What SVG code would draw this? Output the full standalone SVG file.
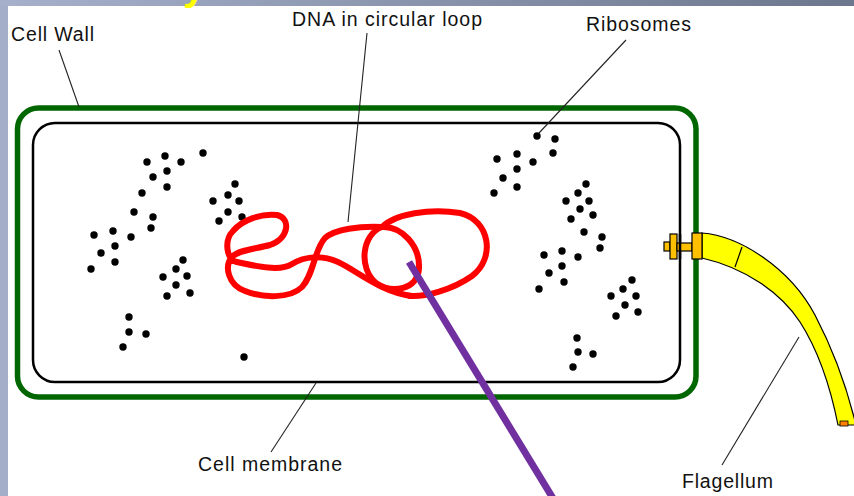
<svg xmlns="http://www.w3.org/2000/svg" width="854" height="496" viewBox="0 0 854 496">
  <defs>
    <linearGradient id="topBand" x1="0" y1="0" x2="1" y2="0">
      <stop offset="0" stop-color="#a6b0cb"/>
      <stop offset="1" stop-color="#6c778d"/>
    </linearGradient>
    <style>
      .label { font-family: "Liberation Sans", Arial, sans-serif; font-size: 19.5px; fill: #111; }
      .leader { stroke: #222; stroke-width: 1.1; fill: none; }
      .dna { fill: none; stroke: #ff0000; stroke-width: 6; stroke-linecap: round; stroke-linejoin: round; }
      .hook { fill: #ffc000; stroke: #000; stroke-width: 1.2; }
      #ribosomes circle { fill: #000; }
    </style>
  </defs>

  <!-- page background and slide frame -->
  <rect x="0" y="0" width="854" height="496" fill="#ffffff"/>
  <rect x="0" y="0" width="8" height="496" fill="#a4aec9"/>
  <rect x="0" y="0" width="854" height="6" fill="url(#topBand)"/>
  <text x="183" y="0" font-family="Liberation Sans, Arial, sans-serif" font-size="40" font-weight="bold" fill="#ffff00">y</text>

  <!-- cell wall -->
  <g id="cell-wall">
    <rect x="17.5" y="108" width="678.5" height="289" rx="21" ry="21" fill="none" stroke="#006600" stroke-width="5.5"/>
  </g>

  <!-- cell membrane -->
  <g id="cell-membrane">
    <rect x="33" y="123" width="647" height="259" rx="22" ry="22" fill="none" stroke="#000" stroke-width="2.5"/>
  </g>

  <!-- ribosomes scattered in the cytoplasm -->
  <g id="ribosomes">
    <circle cx="147" cy="162" r="3.7"/><circle cx="165" cy="156" r="3.7"/><circle cx="181" cy="162" r="3.7"/>
    <circle cx="203" cy="153" r="3.7"/><circle cx="167" cy="171" r="3.7"/><circle cx="153" cy="177" r="3.7"/>
    <circle cx="167" cy="187" r="3.7"/><circle cx="142" cy="193" r="3.7"/><circle cx="134" cy="212" r="3.7"/>
    <circle cx="153" cy="217" r="3.7"/><circle cx="151" cy="228" r="3.7"/>
    <circle cx="235" cy="184" r="3.7"/><circle cx="228" cy="195" r="3.7"/><circle cx="239" cy="201" r="3.7"/>
    <circle cx="213" cy="201" r="3.7"/><circle cx="228" cy="212" r="3.7"/><circle cx="219" cy="221" r="3.7"/>
    <circle cx="242" cy="217" r="3.7"/>
    <circle cx="113" cy="231" r="3.7"/><circle cx="94" cy="235" r="3.7"/><circle cx="131" cy="237" r="3.7"/>
    <circle cx="115" cy="246" r="3.7"/><circle cx="101" cy="253" r="3.7"/><circle cx="115" cy="262" r="3.7"/>
    <circle cx="91" cy="269" r="3.7"/>
    <circle cx="183" cy="260" r="3.7"/><circle cx="176" cy="269" r="3.7"/><circle cx="187" cy="276" r="3.7"/>
    <circle cx="163" cy="277" r="3.7"/><circle cx="176" cy="285" r="3.7"/><circle cx="190" cy="293" r="3.7"/>
    <circle cx="167" cy="296" r="3.7"/>
    <circle cx="129" cy="317" r="3.7"/><circle cx="129" cy="332" r="3.7"/><circle cx="146" cy="334" r="3.7"/>
    <circle cx="123" cy="347" r="3.7"/>
    <circle cx="244" cy="357" r="3.7"/>
    <circle cx="537" cy="136" r="3.7"/><circle cx="555" cy="139" r="3.7"/><circle cx="553" cy="153" r="3.7"/>
    <circle cx="497" cy="159" r="3.7"/><circle cx="517" cy="154" r="3.7"/><circle cx="533" cy="162" r="3.7"/>
    <circle cx="517" cy="169" r="3.7"/><circle cx="503" cy="178" r="3.7"/><circle cx="517" cy="187" r="3.7"/>
    <circle cx="494" cy="193" r="3.7"/>
    <circle cx="586" cy="184" r="3.7"/><circle cx="578" cy="193" r="3.7"/><circle cx="566" cy="201" r="3.7"/>
    <circle cx="589" cy="201" r="3.7"/><circle cx="580" cy="209" r="3.7"/><circle cx="571" cy="219" r="3.7"/>
    <circle cx="593" cy="215" r="3.7"/><circle cx="584" cy="232" r="3.7"/><circle cx="602" cy="237" r="3.7"/>
    <circle cx="600" cy="248" r="3.7"/>
    <circle cx="544" cy="255" r="3.7"/><circle cx="562" cy="251" r="3.7"/><circle cx="578" cy="257" r="3.7"/>
    <circle cx="562" cy="266" r="3.7"/><circle cx="549" cy="273" r="3.7"/><circle cx="564" cy="282" r="3.7"/>
    <circle cx="539" cy="289" r="3.7"/>
    <circle cx="632" cy="280" r="3.7"/><circle cx="623" cy="289" r="3.7"/><circle cx="611" cy="296" r="3.7"/>
    <circle cx="636" cy="296" r="3.7"/><circle cx="625" cy="305" r="3.7"/><circle cx="616" cy="316" r="3.7"/>
    <circle cx="638" cy="312" r="3.7"/>
    <circle cx="577" cy="338" r="3.7"/><circle cx="578" cy="352" r="3.7"/><circle cx="593" cy="354" r="3.7"/>
    <circle cx="573" cy="367" r="3.7"/>
  </g>

  <!-- circular DNA drawn as a freehand loop -->
  <g id="dna">
    <path class="dna" d="M237,262 C226,260 224,240 233,231 C242,220 262,213 277,215 C292,219 288,239 270,245 C255,249 238,250 232,257 C224,266 228,285 245,291 C262,298 290,299 302,287 C314,274 314,250 325,238 C335,229 360,226 382,227 C395,214 430,208 460,213 C490,220 496,258 472,276 C452,290 425,297 410,296"/>
    <path class="dna" d="M237,262 C255,266 280,272 292,264 C305,256 322,255 338,262 C356,270 380,292 412,296"/>
    <path class="dna" d="M382,227 C362,234 358,268 376,283 C392,294 418,290 419,268 C420,246 402,226 382,227 Z"/>
  </g>

  <!-- flagellum with its basal hook -->
  <g id="flagellum">
    <path d="M702,233 C740,236 790,268 815,315 C836,355 848,392 856,425 L838,425 C830,385 818,350 800,322 C780,292 745,268 702,258 Z" fill="#ffff00" stroke="#000" stroke-width="1.2"/>
    <line x1="742" y1="247" x2="735" y2="267" stroke="#000" stroke-width="1.2"/>
    <rect x="840" y="421" width="8" height="5" fill="#ff8000" stroke="#000" stroke-width="0.8"/>
    <rect class="hook" x="664" y="242" width="6" height="9"/>
    <rect class="hook" x="670" y="234" width="7" height="25"/>
    <rect class="hook" x="677" y="243" width="15" height="8"/>
    <line x1="680" y1="234" x2="680" y2="259" stroke="#000" stroke-width="2.5"/>
    <rect class="hook" x="692" y="233" width="10" height="26"/>
  </g>

  <!-- label leader lines -->
  <g id="connectors">
    <line class="leader" x1="59" y1="50" x2="79" y2="107"/>
    <line class="leader" x1="367" y1="33" x2="348" y2="222"/>
    <line class="leader" x1="626" y1="40" x2="539" y2="133"/>
    <line class="leader" x1="271" y1="452" x2="316" y2="383"/>
    <line class="leader" x1="722" y1="465" x2="799" y2="337"/>
    <line x1="409" y1="262" x2="554" y2="500" stroke="#7030a0" stroke-width="7"/>
  </g>

  <!-- labels -->
  <g id="labels">
    <text class="label" x="11" y="41" textLength="83" lengthAdjust="spacing">Cell Wall</text>
    <text class="label" x="292" y="26" textLength="190" lengthAdjust="spacing">DNA in circular loop</text>
    <text class="label" x="586" y="31" textLength="105" lengthAdjust="spacing">Ribosomes</text>
    <text class="label" x="198" y="471" textLength="144" lengthAdjust="spacing">Cell membrane</text>
    <text class="label" x="682" y="488" textLength="91" lengthAdjust="spacing">Flagellum</text>
  </g>
</svg>
